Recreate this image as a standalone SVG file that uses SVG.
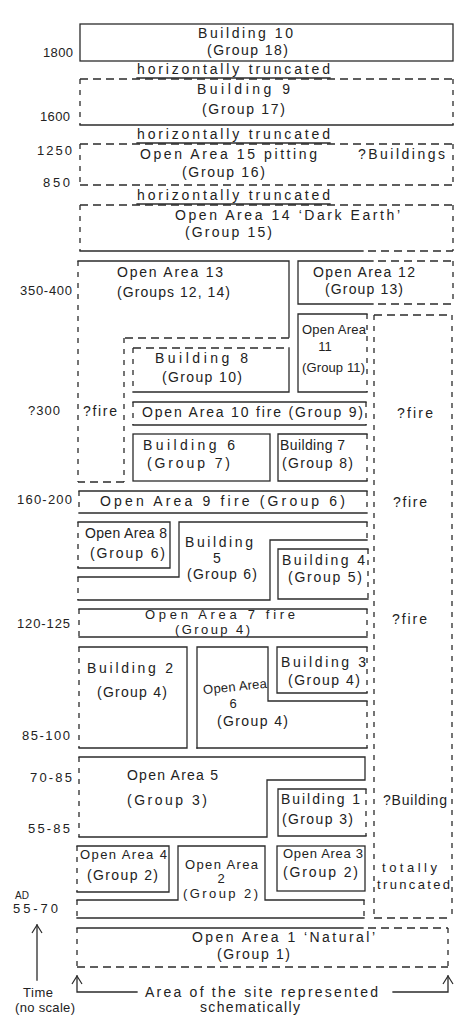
<svg xmlns="http://www.w3.org/2000/svg" width="467" height="1024" viewBox="0 0 467 1024">
<defs>
<style>
.s{stroke:#2b2b2b;stroke-width:1.3;fill:none;stroke-linecap:square}
.d{stroke:#2b2b2b;stroke-width:1.3;fill:none;stroke-dasharray:8 5}
.v{stroke:#2b2b2b;stroke-width:1.3;fill:none;stroke-dasharray:5 6}
text{font-family:"Liberation Sans",Arial,sans-serif;font-size:14px;fill:#222}
.lab{font-size:13px}
.n{font-size:13px}
.sm{font-size:10px}
</style>
<marker id="chev" viewBox="0 0 12 12" refX="11" refY="6" markerWidth="12" markerHeight="12" markerUnits="userSpaceOnUse" orient="auto">
<path d="M3 1 L11 6 L3 11" fill="none" stroke="#2b2b2b" stroke-width="1.2"/>
</marker>
</defs>
<rect width="467" height="1024" fill="#fff"/>

<g id="time-labels">
<text class="lab" x="43" y="57" textLength="30">1800</text>
<text class="lab" x="40" y="121" textLength="30">1600</text>
<text class="lab" x="37" y="155" textLength="35">1250</text>
<text class="lab" x="43" y="187" textLength="27">850</text>
<text class="lab" x="20" y="295" textLength="52">350-400</text>
<text class="lab" x="28" y="415" textLength="32">?300</text>
<text class="lab" x="17" y="504" textLength="55">160-200</text>
<text class="lab" x="17" y="628" textLength="53">120-125</text>
<text class="lab" x="22" y="740" textLength="48">85-100</text>
<text class="lab" x="30" y="782" textLength="42">70-85</text>
<text class="lab" x="28" y="833" textLength="42">55-85</text>
<text class="sm" x="15" y="899">AD</text>
<text class="n" x="13" y="913" textLength="45">55-70</text>
<text class="n" x="23" y="997" textLength="30">Time</text>
<text class="n" x="15" y="1012" textLength="60">(no scale)</text>
</g>

<g id="truncation-notes">
<text x="137" y="74" textLength="193">horizontally truncated</text>
<line class="s" x1="137" y1="78" x2="330" y2="78"/>
<text x="137" y="139" textLength="193">horizontally truncated</text>
<line class="s" x1="137" y1="143" x2="330" y2="143"/>
<text x="137" y="200" textLength="193">horizontally truncated</text>
<line class="s" x1="137" y1="204" x2="330" y2="204"/>
</g>

<g id="building-10">
<rect class="s" x="80" y="24" width="373" height="37"/>
<text x="198" y="38" textLength="95">Building 10</text>
<text x="207" y="55" textLength="81">(Group 18)</text>
</g>

<g id="building-9">
<line class="d" x1="80" y1="79" x2="453" y2="79"/>
<line class="v" x1="80" y1="79" x2="80" y2="125"/>
<line class="v" x1="453" y1="79" x2="453" y2="125"/>
<line class="s" x1="80" y1="125" x2="453" y2="125"/>
<text x="197" y="94" textLength="93">Building 9</text>
<text x="202" y="114" textLength="83">(Group 17)</text>
</g>

<g id="open-area-15">
<line class="d" x1="80" y1="144" x2="453" y2="144"/>
<line class="d" x1="80" y1="185" x2="453" y2="185"/>
<line class="v" x1="80" y1="144" x2="80" y2="185"/>
<line class="v" x1="453" y1="144" x2="453" y2="185"/>
<text x="140" y="159" textLength="177">Open Area 15  pitting</text>
<text x="358" y="159" textLength="87">?Buildings</text>
<text x="182" y="177" textLength="83">(Group 16)</text>
</g>

<g id="open-area-14">
<line class="d" x1="80" y1="205" x2="453" y2="205"/>
<line class="v" x1="80" y1="205" x2="80" y2="251"/>
<line class="v" x1="453" y1="205" x2="453" y2="251"/>
<line class="s" x1="80" y1="251" x2="363" y2="251"/>
<line class="d" x1="368" y1="251" x2="453" y2="251"/>
<text x="175" y="220" textLength="225">Open Area 14  ‘Dark Earth’</text>
<text x="185" y="237" textLength="87">(Group 15)</text>
</g>

<g id="open-area-13">
<polyline class="s" points="78,261 289,261 289,337"/>
<line class="d" x1="289" y1="338" x2="124" y2="338"/>
<line class="v" x1="124" y1="338" x2="124" y2="482"/>
<line class="d" x1="124" y1="482" x2="78" y2="482"/>
<line class="v" x1="78" y1="261" x2="78" y2="482"/>
<text x="117" y="277" textLength="106">Open Area 13</text>
<text x="117" y="297" textLength="113">(Groups 12, 14)</text>
<text x="83" y="416" textLength="34">?fire</text>
</g>

<g id="open-area-12">
<polyline class="s" points="373,261 298,261 298,304 373,304"/>
<line class="d" x1="378" y1="261" x2="453" y2="261"/>
<line class="d" x1="378" y1="304" x2="453" y2="304"/>
<line class="v" x1="453" y1="261" x2="453" y2="304"/>
<text x="313" y="277" textLength="102">Open Area 12</text>
<text x="325" y="294" textLength="78">(Group 13)</text>
</g>

<g id="open-area-11">
<polyline class="s" points="367,314 298,314 298,392 367,392"/>
<line class="v" x1="367" y1="314" x2="367" y2="392"/>
<text class="n" x="302" y="334" textLength="64">Open Area</text>
<text class="n" x="325" y="351" text-anchor="middle">11</text>
<text class="n" x="302" y="372" textLength="63">(Group 11)</text>
</g>

<g id="truncated-column">
<line class="d" x1="374" y1="315" x2="452" y2="315"/>
<line class="v" x1="374" y1="315" x2="374" y2="918"/>
<line class="v" x1="452" y1="315" x2="452" y2="918"/>
<line class="d" x1="374" y1="918" x2="452" y2="918"/>
<text x="397" y="418" textLength="36">?fire</text>
<text x="393" y="507" textLength="34">?fire</text>
<text x="392" y="624" textLength="35">?fire</text>
<text x="383" y="805" textLength="64">?Building</text>
<text class="n" x="382" y="872" textLength="55">totally</text>
<text class="n" x="377" y="889" textLength="73">truncated</text>
</g>

<g id="building-8">
<line class="d" x1="133" y1="348" x2="289" y2="348"/>
<line class="v" x1="133" y1="348" x2="133" y2="392"/>
<polyline class="s" points="289,348 289,392 133,392"/>
<text x="155" y="363" textLength="93">Building 8</text>
<text x="162" y="382" textLength="80">(Group 10)</text>
</g>

<g id="open-area-10">
<line class="s" x1="133" y1="402" x2="366" y2="402"/>
<line class="s" x1="133" y1="425" x2="366" y2="425"/>
<line class="v" x1="133" y1="402" x2="133" y2="425"/>
<line class="v" x1="366" y1="402" x2="366" y2="425"/>
<text x="142" y="417" textLength="221">Open Area 10  fire  (Group 9)</text>
</g>

<g id="building-6">
<rect class="s" x="133" y="434" width="137" height="47"/>
<text x="143" y="450" textLength="92">Building 6</text>
<text x="147" y="468" textLength="83">(Group 7)</text>
</g>

<g id="building-7">
<polyline class="s" points="367,434 278,434 278,481 367,481"/>
<line class="v" x1="367" y1="434" x2="367" y2="481"/>
<text x="280" y="450" textLength="65">Building 7</text>
<text x="282" y="468" textLength="71">(Group 8)</text>
</g>

<g id="open-area-9">
<line class="s" x1="79" y1="491" x2="367" y2="491"/>
<line class="s" x1="79" y1="513" x2="367" y2="513"/>
<line class="v" x1="79" y1="491" x2="79" y2="513"/>
<line class="v" x1="367" y1="491" x2="367" y2="513"/>
<text x="100" y="506" textLength="245">Open Area 9  fire  (Group 6)</text>
</g>

<g id="open-area-8">
<polyline class="s" points="78,522 170,522 170,568 78,568"/>
<line class="v" x1="78" y1="522" x2="78" y2="568"/>
<text x="85" y="538" textLength="82">Open Area 8</text>
<text x="90" y="558" textLength="75">(Group 6)</text>
</g>

<g id="building-5">
<polyline class="s" points="78,577 179,577 179,522 367,522"/>
<line class="v" x1="367" y1="522" x2="367" y2="540"/>
<polyline class="s" points="367,540 270,540 270,600 78,600"/>
<line class="v" x1="78" y1="577" x2="78" y2="600"/>
<text x="185" y="547" textLength="68">Building</text>
<text x="217" y="563" text-anchor="middle">5</text>
<text x="187" y="579" textLength="70">(Group 6)</text>
</g>

<g id="building-4">
<polyline class="s" points="368,549 278,549 278,599 368,599"/>
<line class="v" x1="368" y1="549" x2="368" y2="599"/>
<text x="282" y="565" textLength="83">Building 4</text>
<text x="288" y="582" textLength="74">(Group 5)</text>
</g>

<g id="open-area-7">
<line class="s" x1="79" y1="609" x2="367" y2="609"/>
<line class="s" x1="79" y1="637" x2="367" y2="637"/>
<line class="v" x1="79" y1="609" x2="79" y2="637"/>
<line class="v" x1="367" y1="609" x2="367" y2="637"/>
<text class="n" x="145" y="619" textLength="150">Open Area 7  fire</text>
<text class="n" x="175" y="634" textLength="75">(Group 4)</text>
</g>

<g id="building-2">
<polyline class="s" points="79,647 187,647 187,748 79,748"/>
<line class="v" x1="79" y1="647" x2="79" y2="748"/>
<text x="87" y="673" textLength="86">Building 2</text>
<text x="97" y="697" textLength="70">(Group 4)</text>
</g>

<g id="open-area-6">
<polyline class="s" points="197,748 197,647 268,647 268,701 367,701"/>
<line class="v" x1="367" y1="701" x2="367" y2="748"/>
<line class="s" x1="367" y1="748" x2="197" y2="748"/>
<text class="n" x="203" y="691" textLength="64" transform="rotate(-6 235 687)">Open Area</text>
<text class="n" x="233" y="708" text-anchor="middle">6</text>
<text x="217" y="726" textLength="71">(Group 4)</text>
</g>

<g id="building-3">
<polyline class="s" points="367,647 277,647 277,693 367,693"/>
<line class="v" x1="367" y1="647" x2="367" y2="693"/>
<text x="281" y="667" textLength="85">Building 3</text>
<text x="288" y="685" textLength="72">(Group 4)</text>
</g>

<g id="open-area-5">
<polyline class="s" points="79,757 365,757 365,780 267,780 267,837 79,837"/>
<line class="v" x1="79" y1="757" x2="79" y2="837"/>
<text x="127" y="780" textLength="91">Open Area 5</text>
<text x="127" y="805" textLength="80">(Group 3)</text>
</g>

<g id="building-1">
<polyline class="s" points="366,789 278,789 278,836 366,836"/>
<line class="v" x1="366" y1="789" x2="366" y2="836"/>
<text x="281" y="804" textLength="79">Building 1</text>
<text x="282" y="824" textLength="71">(Group 3)</text>
</g>

<g id="open-area-4">
<polyline class="s" points="77,846 169,846 169,892 77,892"/>
<line class="v" x1="77" y1="846" x2="77" y2="892"/>
<text class="n" x="80" y="859" textLength="87">Open Area 4</text>
<text x="87" y="880" textLength="71">(Group 2)</text>
</g>

<g id="open-area-2">
<polyline class="s" points="77,900 178,900 178,846 265,846 265,900 364,900"/>
<line class="v" x1="364" y1="900" x2="364" y2="918"/>
<line class="s" x1="364" y1="918" x2="77" y2="918"/>
<line class="v" x1="77" y1="900" x2="77" y2="918"/>
<text class="n" x="185" y="869" textLength="73">Open Area</text>
<text class="n" x="221" y="883" text-anchor="middle">2</text>
<text class="n" x="183" y="898" textLength="75">(Group 2)</text>
</g>

<g id="open-area-3">
<rect class="s" x="277" y="846" width="88" height="45"/>
<text class="n" x="283" y="858" textLength="80">Open Area 3</text>
<text x="283" y="877" textLength="75">(Group 2)</text>
</g>

<g id="open-area-1">
<line class="s" x1="77" y1="928" x2="363" y2="928"/>
<line class="d" x1="368" y1="928" x2="448" y2="928"/>
<line class="v" x1="448" y1="928" x2="448" y2="967"/>
<line class="d" x1="77" y1="967" x2="448" y2="967"/>
<line class="v" x1="77" y1="928" x2="77" y2="967"/>
<text x="192" y="942" textLength="183">Open Area 1 ‘Natural’</text>
<text x="217" y="959" textLength="73">(Group 1)</text>
</g>

<g id="site-area-label">
<text x="145" y="997" textLength="233">Area of the site represented</text>
<text x="200" y="1012" textLength="100">schematically</text>
</g>

<g id="connectors">
<line class="s" x1="37" y1="980" x2="37" y2="925" marker-end="url(#chev)"/>
<polyline class="s" points="137,992 77,992 77,976" marker-end="url(#chev)"/>
<polyline class="s" points="393,992 448,992 448,976" marker-end="url(#chev)"/>
</g>
</svg>
